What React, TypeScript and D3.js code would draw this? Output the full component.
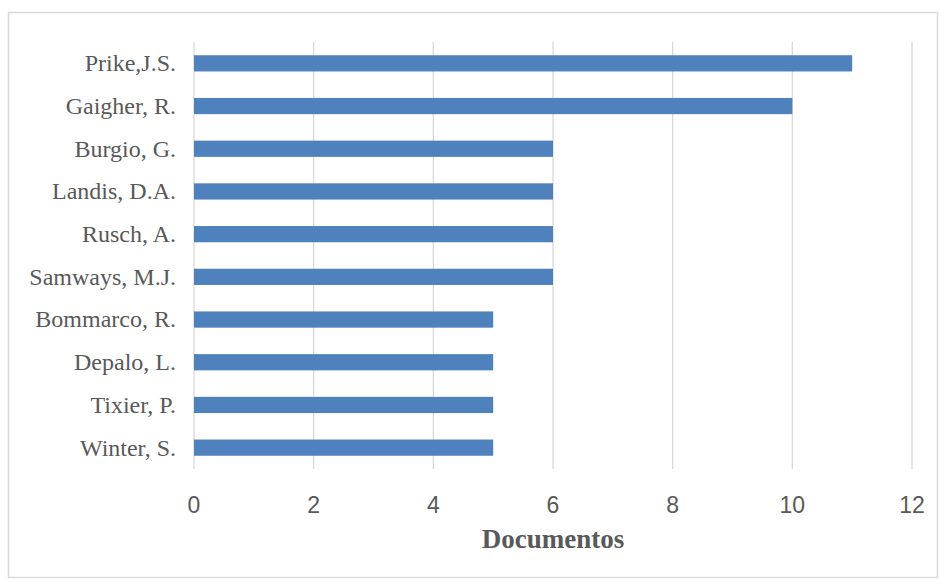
import { useEffect, useRef } from "react";
import * as d3 from "d3";

const authors = [
  "Prike,J.S.",
  "Gaigher, R.",
  "Burgio, G.",
  "Landis, D.A.",
  "Rusch, A.",
  "Samways, M.J.",
  "Bommarco, R.",
  "Depalo, L.",
  "Tixier, P.",
  "Winter, S.",
];
const documents = [11, 10, 6, 6, 6, 6, 5, 5, 5, 5];
const xTicks = [0, 2, 4, 6, 8, 10, 12];
const xTitle = "Documentos";

export default function App() {
  const svgRef = useRef<SVGSVGElement>(null);

  useEffect(() => {
    if (!svgRef.current) return;
    const svg = d3.select(svgRef.current);
    svg.selectAll("*").remove();

    const width = 939;
    const height = 579;
    const plot = { left: 194, right: 912, top: 42, bottom: 469 };

    svg.attr("width", width).attr("height", height);

    // outer frame
    svg
      .append("rect")
      .attr("x", 8.5)
      .attr("y", 12.5)
      .attr("width", 929)
      .attr("height", 565)
      .attr("fill", "#fff")
      .attr("stroke", "#d9d9d9")
      .attr("stroke-width", 1.5);

    const x = d3.scaleLinear().domain([0, 12]).range([plot.left, plot.right]);
    const y = d3
      .scaleBand<string>()
      .domain(authors)
      .range([plot.top, plot.bottom])
      .paddingInner(0.62)
      .paddingOuter(0.31);

    // vertical gridlines
    svg
      .append("g")
      .selectAll("line")
      .data(xTicks)
      .join("line")
      .attr("x1", (d) => x(d))
      .attr("x2", (d) => x(d))
      .attr("y1", plot.top)
      .attr("y2", plot.bottom)
      .attr("stroke", "#d9d9d9")
      .attr("stroke-width", 1.3);

    // bars
    svg
      .append("g")
      .selectAll("rect")
      .data(authors)
      .join("rect")
      .attr("x", x(0))
      .attr("y", (d) => y(d)!)
      .attr("width", (_, i) => x(documents[i]) - x(0))
      .attr("height", y.bandwidth())
      .attr("fill", "#4f81bd");

    // category labels
    svg
      .append("g")
      .selectAll("text")
      .data(authors)
      .join("text")
      .attr("x", 176)
      .attr("y", (d) => y(d)! + y.bandwidth() / 2)
      .attr("dy", "0.33em")
      .attr("text-anchor", "end")
      .attr("font-family", "'Liberation Serif', 'Times New Roman', serif")
      .attr("font-size", "24px")
      .attr("fill", "#595959")
      .text((d) => d);

    // x tick labels
    svg
      .append("g")
      .selectAll("text")
      .data(xTicks)
      .join("text")
      .attr("x", (d) => x(d))
      .attr("y", 513)
      .attr("text-anchor", "middle")
      .attr("font-family", "'Liberation Sans', Arial, sans-serif")
      .attr("font-size", "23px")
      .attr("fill", "#595959")
      .text((d) => d);

    // x axis title
    svg
      .append("text")
      .attr("x", (plot.left + plot.right) / 2)
      .attr("y", 548)
      .attr("text-anchor", "middle")
      .attr("font-family", "'Liberation Serif', 'Times New Roman', serif")
      .attr("font-size", "27px")
      .attr("font-weight", "bold")
      .attr("fill", "#595959")
      .text(xTitle);
  }, []);

  return (
    <div style={{ position: "absolute", left: 0, top: 0 }}>
      <svg ref={svgRef} style={{ display: "block" }} />
    </div>
  );
}
